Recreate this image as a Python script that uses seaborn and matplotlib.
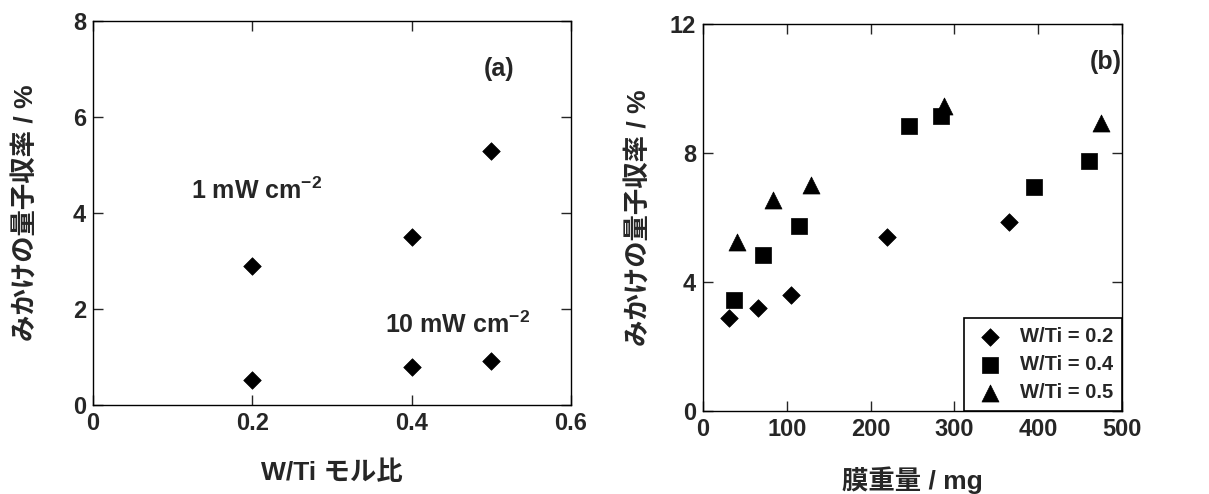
import pandas as pd
import seaborn as sns
from matplotlib import pyplot as plt

# (a) quantum yield vs W/Ti ratio
wti_ratio = [0.2, 0.4, 0.5]
qy_1mw = [2.9, 3.5, 5.3]
qy_10mw = [0.52, 0.8, 0.91]

# (b) quantum yield vs film weight
film_w02 = [31, 66, 105, 220, 365]
qy_w02 = [2.9, 3.2, 3.6, 5.4, 5.85]
film_w04 = [37, 72, 114, 246, 284, 395, 460]
qy_w04 = [3.45, 4.85, 5.75, 8.85, 9.15, 6.95, 7.75]
film_w05 = [40, 83, 129, 288, 475]
qy_w05 = [5.25, 6.55, 7.0, 9.45, 8.94]

series_labels = ['W/Ti = 0.2', 'W/Ti = 0.4', 'W/Ti = 0.5']

sns.set_style('ticks')
plt.rcParams['font.family'] = ['Liberation Sans', 'Noto Sans CJK JP']
plt.rcParams['font.weight'] = 'bold'
plt.rcParams['mathtext.fontset'] = 'custom'
plt.rcParams['mathtext.rm'] = 'Liberation Sans'
plt.rcParams['mathtext.bf'] = 'Liberation Sans:bold'

data_a = pd.DataFrame({'ratio': wti_ratio * 2,
                       'qy': qy_1mw + qy_10mw})
data_b = pd.DataFrame({'film': film_w02 + film_w04 + film_w05,
                       'qy': qy_w02 + qy_w04 + qy_w05,
                       'label': [series_labels[0]] * len(film_w02)
                       + [series_labels[1]] * len(film_w04)
                       + [series_labels[2]] * len(film_w05)})

fig = plt.figure(figsize=(12.09, 4.94), dpi=100)
ax1 = fig.add_axes([0.0769, 0.180, 0.3954, 0.777])
ax2 = fig.add_axes([0.5815, 0.168, 0.3466, 0.783])

sns.scatterplot(ax=ax1, data=data_a, x='ratio', y='qy', marker='D', s=80,
                color='black', edgecolor='black', linewidth=0.5)

markers = {series_labels[0]: 'D', series_labels[1]: 's', series_labels[2]: '^'}
sizes = {series_labels[0]: 80, series_labels[1]: 120, series_labels[2]: 150}
for lab in series_labels:
    sub = data_b[data_b['label'] == lab]
    sns.scatterplot(ax=ax2, data=sub, x='film', y='qy', marker=markers[lab],
                    s=sizes[lab], color='black', edgecolor='black',
                    linewidth=0.5, label=lab)

ax1.set_xlim(0, 0.6)
ax1.set_ylim(0, 8)
ax1.set_xticks([0, 0.2, 0.4, 0.6])
ax1.set_xticklabels(['0', '0.2', '0.4', '0.6'])
ax1.set_yticks([0, 2, 4, 6, 8])

ax2.set_xlim(0, 500)
ax2.set_ylim(0, 12)
ax2.set_xticks([0, 100, 200, 300, 400, 500])
ax2.set_yticks([0, 4, 8, 12])

for ax in (ax1, ax2):
    for sp in ax.spines.values():
        sp.set_visible(True)
        sp.set_color('black')
        sp.set_linewidth(1.0)
    ax.tick_params(direction='in', length=7, width=1, top=True, right=True,
                   labelsize=17, pad=5)
    for t in ax.get_xticklabels() + ax.get_yticklabels():
        t.set_fontweight('bold')
    ax.set_ylabel('みかけの量子収率 / %', fontsize=19, fontweight='bold')

ax1.set_xlabel('W/Ti モル比', fontsize=19, fontweight='bold', labelpad=18)
ax1.yaxis.labelpad = 25
ax2.set_xlabel('膜重量 / mg', fontsize=19, fontweight='bold', labelpad=18)
ax2.yaxis.labelpad = 14

ax1.text(0.51, 7.0, '(a)', fontsize=18, fontweight='bold', ha='center', va='center')
ax1.text(0.123, 4.46, r'1 mW cm$^{\mathbf{-2}}$', fontsize=18, fontweight='bold',
         ha='left', va='center')
ax1.text(0.366, 1.67, r'10 mW cm$^{\mathbf{-2}}$', fontsize=18, fontweight='bold',
         ha='left', va='center')
ax2.text(481, 10.83, '(b)', fontsize=18, fontweight='bold', ha='center', va='center')

leg = ax2.legend(loc='lower right', fontsize=14.5, frameon=True, fancybox=False,
                 edgecolor='black', borderaxespad=0, handletextpad=0.7,
                 handlelength=1.6, labelspacing=0.45, borderpad=0.45)
leg.get_frame().set_linewidth(1.2)
leg.get_frame().set_alpha(1)
for t in leg.get_texts():
    t.set_fontweight('bold')

fig.savefig('out.png', dpi=100)
